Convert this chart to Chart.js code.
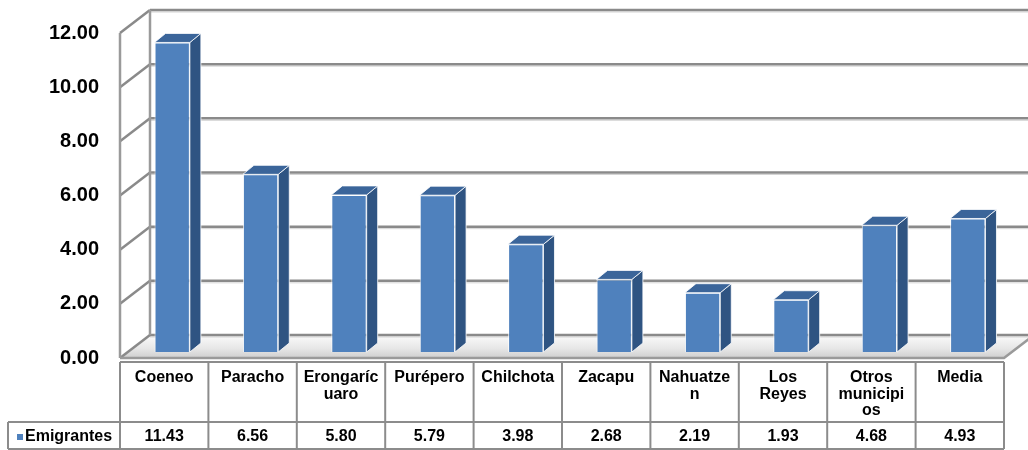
<!DOCTYPE html>
<html>
<head>
<meta charset="utf-8">
<script src="https://cdn.jsdelivr.net/npm/chart.js@4"></script>
<style>
  html, body { margin: 0; padding: 0; background: #fff; }
</style>
</head>
<body>
<canvas id="myChart" width="1028" height="450"></canvas>
<script>
// datos
const categorias = ['Coeneo', 'Paracho', 'Erongarícuaro', 'Purépero', 'Chilchota', 'Zacapu', 'Nahuatzen', 'Los Reyes', 'Otros municipios', 'Media']
const etiquetas = [['Coeneo'], ['Paracho'], ['Erongaríc', 'uaro'], ['Purépero'], ['Chilchota'], ['Zacapu'], ['Nahuatze', 'n'], ['Los', 'Reyes'], ['Otros', 'municipi', 'os'], ['Media']]
const emigrantes = [11.43, 6.56, 5.80, 5.79, 3.98, 2.68, 2.19, 1.93, 4.68, 4.93]
const nombreSerie = 'Emigrantes'

const fuente = "'Liberation Sans', Arial, sans-serif"
const ctx = document.getElementById('myChart')

// profundidad de la pared del fondo y de las barras
const PARED = {dx: 30, dy: -23}
const DESPL = {dx: 8, dy: -6}
const PROF = {dx: 11, dy: -9}

function linea(c, x1, y1, x2, y2) {
    c.beginPath()
    c.moveTo(x1, y1)
    c.lineTo(x2, y2)
    c.stroke()
}

const efecto3d = {
    id: 'efecto3d',
    beforeDatasetsDraw(chart) {
        const c = chart.ctx
        const a = chart.chartArea
        const y = chart.scales.y
        const y0 = y.getPixelForValue(0)
        const yTop = y.getPixelForValue(12)
        c.save()

        // piso
        const g = c.createLinearGradient(0, y0 + PARED.dy, 0, y0)
        g.addColorStop(0, '#fbfbfb')
        g.addColorStop(0.6, '#e6e6e6')
        g.addColorStop(1, '#cfcfcf')
        c.fillStyle = g
        c.beginPath()
        c.moveTo(a.left, y0)
        c.lineTo(a.right, y0)
        c.lineTo(a.right + PARED.dx, y0 + PARED.dy)
        c.lineTo(a.left + PARED.dx, y0 + PARED.dy)
        c.closePath()
        c.fill()

        // lineas de la pared del fondo
        y.ticks.forEach(t => {
            const py = y.getPixelForValue(t.value)
            c.strokeStyle = '#d4d4d4'
            c.lineWidth = 1
            linea(c, a.left + PARED.dx, py + PARED.dy + 2, chart.width, py + PARED.dy + 2)
            c.strokeStyle = '#8a8a8a'
            c.lineWidth = 2.5
            linea(c, a.left + PARED.dx, py + PARED.dy, chart.width, py + PARED.dy)
            linea(c, a.left, py, a.left + PARED.dx, py + PARED.dy)
        })
        c.strokeStyle = '#9a9a9a'
        c.lineWidth = 2.5
        linea(c, a.left + PARED.dx, yTop + PARED.dy, a.left + PARED.dx, y0 + PARED.dy)
        linea(c, a.left, yTop, a.left, y0)
        // borde del piso
        c.beginPath()
        c.moveTo(a.left, y0)
        c.lineTo(a.right, y0)
        c.lineTo(a.right + PARED.dx, y0 + PARED.dy)
        c.stroke()
        c.restore()

        c.save()
        c.translate(DESPL.dx, DESPL.dy)
    },
    afterDatasetsDraw(chart) {
        const c = chart.ctx
        const meta = chart.getDatasetMeta(0)
        meta.data.forEach(bar => {
            const p = bar.getProps(['x', 'y', 'base', 'width'], true)
            const l = p.x - p.width / 2
            const r = p.x + p.width / 2
            // cara lateral
            c.fillStyle = '#2f5482'
            c.strokeStyle = 'rgba(255,255,255,0.8)'
            c.lineWidth = 1
            c.beginPath()
            c.moveTo(r, p.y)
            c.lineTo(r + PROF.dx, p.y + PROF.dy)
            c.lineTo(r + PROF.dx, p.base + PROF.dy)
            c.lineTo(r, p.base)
            c.closePath()
            c.fill()
            c.stroke()
            // cara superior
            c.fillStyle = '#3b659a'
            c.beginPath()
            c.moveTo(l, p.y)
            c.lineTo(l + PROF.dx, p.y + PROF.dy)
            c.lineTo(r + PROF.dx, p.y + PROF.dy)
            c.lineTo(r, p.y)
            c.closePath()
            c.fill()
            c.stroke()
        })
        c.restore()
    },
    afterDraw(chart) {
        // tabla de datos
        const c = chart.ctx
        const x = chart.scales.x
        const n = categorias.length
        const ancho = (x.right - x.left) / n
        const top = 362, medio = 422, fondo = 449, izq = 8
        c.save()
        c.strokeStyle = '#8c8c8c'
        c.lineWidth = 2
        linea(c, x.left, top, x.right, top)
        linea(c, izq, medio, x.right, medio)
        linea(c, izq, fondo, x.right, fondo)
        linea(c, izq, medio, izq, fondo)
        for (let i = 0; i <= n; i++) {
            const px = x.left + i * ancho
            linea(c, px, top, px, fondo)
        }
        c.fillStyle = '#000'
        c.textAlign = 'center'
        c.textBaseline = 'middle'
        c.font = 'bold 16px ' + fuente
        etiquetas.forEach((lineas, i) => {
            const cx = x.left + (i + 0.5) * ancho
            lineas.forEach((t, k) => c.fillText(t, cx, 378 + k * 16.5))
            c.fillText(emigrantes[i].toFixed(2), cx, 437)
        })
        c.fillStyle = '#4f81bd'
        c.fillRect(17, 434, 6, 6)
        c.fillStyle = '#000'
        c.textAlign = 'left'
        c.fillText(nombreSerie, 25, 437)
        c.restore()
    }
}

new Chart(ctx, {
    type: 'bar',
    data: {
        labels: categorias,
        datasets: [
            {
                label: nombreSerie,
                data: emigrantes,
                backgroundColor: '#4f81bd',
                borderColor: 'rgba(255,255,255,0.8)',
                borderWidth: 1,
                categoryPercentage: 1,
                barPercentage: 0.4
            }
        ]
    },
    options: {
        responsive: false,
        animation: false,
        devicePixelRatio: 1,
        layout: {
            padding: {left: 0, top: 33, right: 24, bottom: 92}
        },
        plugins: {
            legend: {display: false},
            tooltip: {enabled: false}
        },
        scales: {
            x: {
                display: false
            },
            y: {
                min: 0,
                max: 12,
                afterFit: s => { s.width = 120 },
                grid: {display: false, drawTicks: false},
                border: {display: false},
                ticks: {
                    stepSize: 2,
                    padding: 21,
                    color: '#000',
                    font: {family: fuente, size: 20, weight: 'bold'},
                    callback: v => v.toFixed(2)
                }
            }
        }
    },
    plugins: [efecto3d]
});
</script>
</body>
</html>
